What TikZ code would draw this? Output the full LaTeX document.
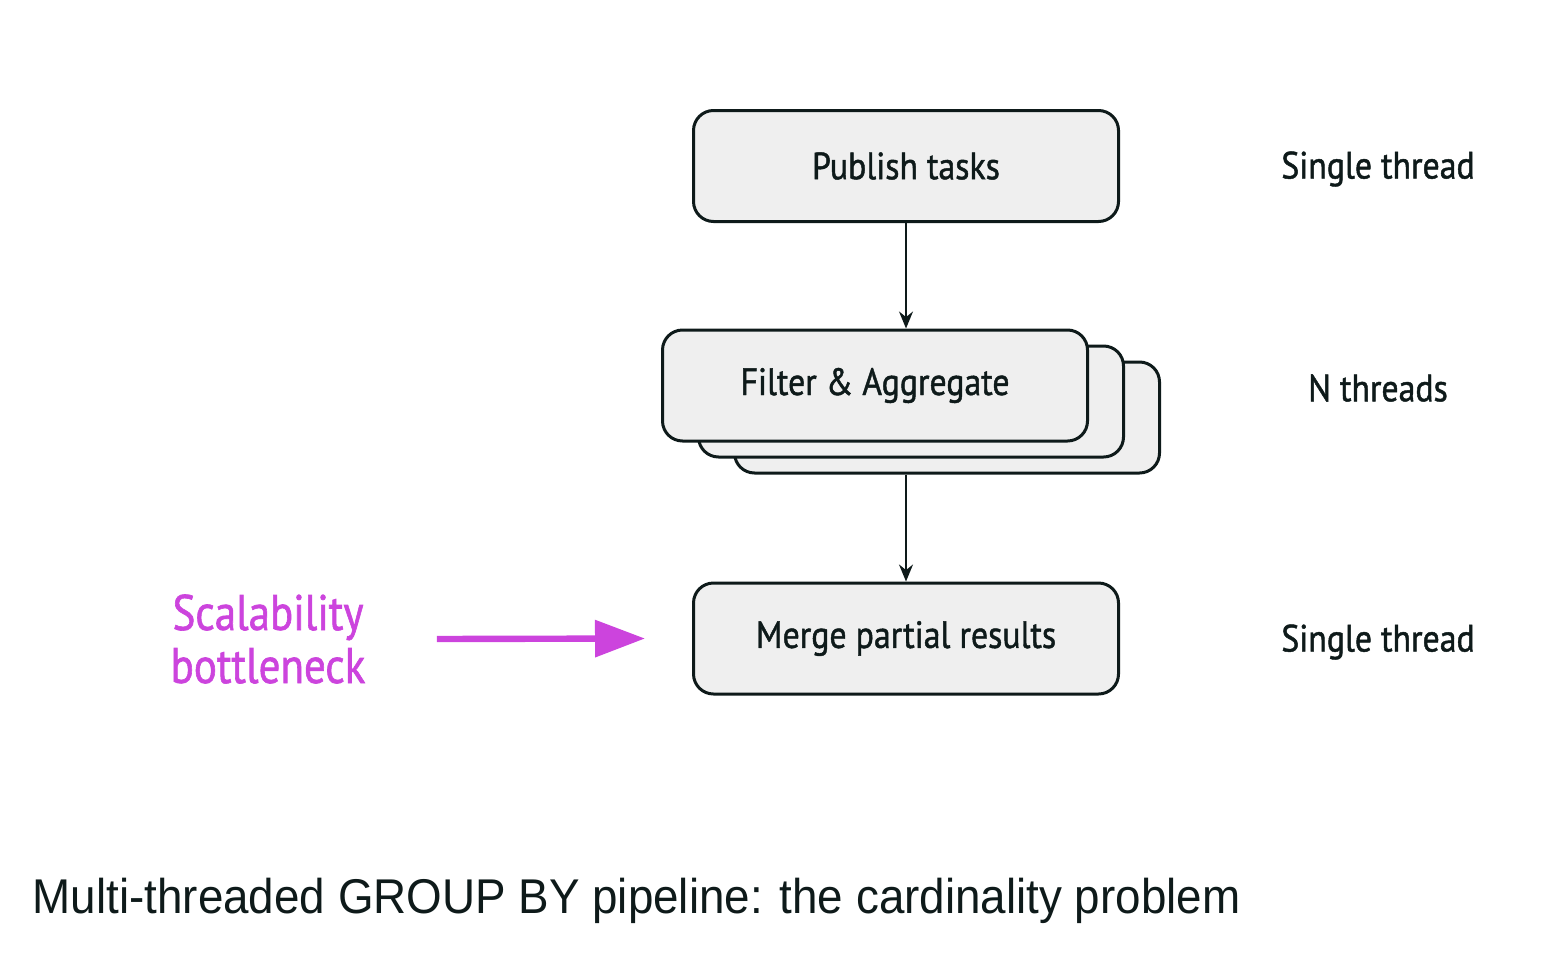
\documentclass[tikz,border=0pt]{standalone}
\usepackage{fontspec}
\usetikzlibrary{positioning, arrows.meta}
\newfontfamily\boxfont[FakeStretch=0.89, FakeBold=1.2]{PT Sans}
\newfontfamily\hotfont[FakeStretch=0.86, FakeBold=1.2]{PT Sans}
\newfontfamily\capfont[FakeStretch=0.938]{Liberation Sans}
\definecolor{ink}{HTML}{0E1A1A}
\definecolor{boxfill}{HTML}{EFEFEF}
\definecolor{hot}{HTML}{CC44DD}

\begin{document}
\begin{tikzpicture}[x=0.5pt, y=-0.5pt, thick, text=ink,
        stage/.style = {draw=ink, line width=1.5pt, fill=boxfill, rounded corners=10pt,
            minimum width=212.5pt, minimum height=55.5pt, font=\boxfont\fontsize{19}{22}\selectfont},
        side/.style = {font=\boxfont\fontsize{19}{22}\selectfont},
        flow/.style = {draw=ink, line width=0.75pt, -{Stealth[length=8.5pt, width=7pt]}}]
        \useasboundingbox (0,0) rectangle (1566,958);

        \node[stage] (pub) at (906,166) {Publish tasks};
        \node[stage] (filt c) at (947,417.5) {};
        \node[stage] (filt b) at (911,401.5) {};
        \node[stage] (filt) at (875,385.5) {Filter \& Aggregate};
        \node[stage] (merge) at (906,638.5) {Merge partial results};

        \node[side] (t1) at (1378,169) {Single thread};
        \node[side] (t2) at (1378,388) {N threads};
        \node[side] (t3) at (1378,642) {Single thread};

        \draw[flow] (pub.south) -- (pub.south |- filt.north);
        \draw[flow] (filt c.south -| merge.north) -- (merge.north);

        % bottleneck marker
        \node[text=hot, align=center, font=\hotfont\fontsize{25}{26.5}\selectfont] (neck) at (268,639) {Scalability\\bottleneck};
        \draw[hot, line width=3.2pt, -{Triangle[length=25pt, width=18pt]}] ([xshift=32pt]neck.east) -- ([xshift=-23.5pt]merge.west);

        \node[anchor=base west, inner sep=0pt, font=\capfont\fontsize{24.4}{28}\selectfont] (cap) at (32,913)
            {Multi-threaded GROUP BY pipeline: the cardinality problem};
    \end{tikzpicture}
\end{document}
